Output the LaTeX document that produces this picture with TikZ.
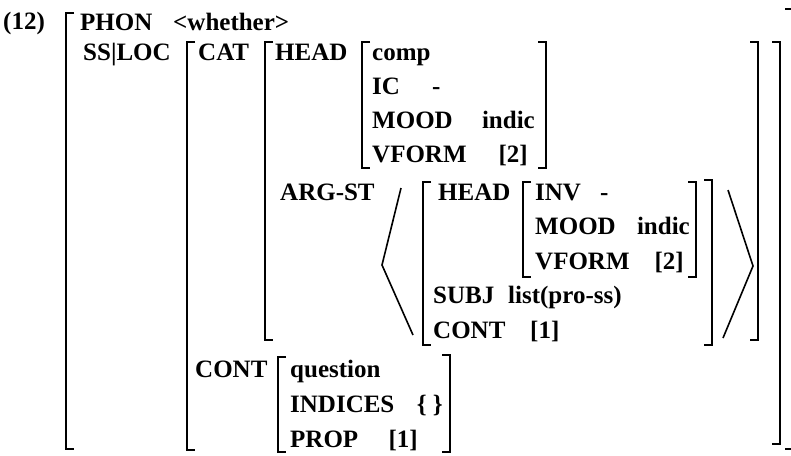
\documentclass[tikz,border=0pt]{standalone}
\usepackage{fontspec}
\setmainfont{Liberation Serif}
\tikzset{
  avm/.style={anchor=base west, inner sep=0pt, font=\fontsize{25}{29}\selectfont\bfseries},
  avmr/.style={avm, anchor=base east},
  brk/.style={line width=1.6pt, line join=miter}
}
\newcommand\lbrk[3]{\draw[brk] ({#1+8},#2) -- (#1,#2) -- (#1,#3) -- ({#1+8},#3);}
\newcommand\rbrk[3]{\draw[brk] ({#1-8},#2) -- (#1,#2) -- (#1,#3) -- ({#1-8},#3);}
\begin{document}
\begin{tikzpicture}[x=1pt,y=-1pt]
\useasboundingbox (0,0) rectangle (791,455);
% text
\node[avm] (num) at (3,29) {(12)};
\node[avm] (phon) at (80,30) {PHON};
\node[avm] (phonv) at (173,30) {<whether>};
\node[avm] (ssloc) at (83,60) {SS|LOC};
\node[avm] (cat) at (198,60) {CAT};
\node[avm] (head) at (275,60) {HEAD};
\node[avm] (comp) at (372,60) {comp};
\node[avm] (ic) at (372,94) {IC};
\node[avm] (icv) at (432,94) {-};
\node[avm] (mood) at (372,128) {MOOD};
\node[avmr] (moodv) at (535,128) {indic};
\node[avm] (vform) at (372,162) {VFORM};
\node[avmr] (vformv) at (528,162) {[2]};
\node[avm] (argst) at (280,200) {ARG-ST};
\node[avm] (head2) at (438,200) {HEAD};
\node[avm] (inv) at (535,200) {INV};
\node[avm] (invv) at (600,200) {-};
\node[avm] (mood2) at (535,234) {MOOD};
\node[avmr] (mood2v) at (690,234) {indic};
\node[avm] (vform2) at (535,269) {VFORM};
\node[avmr] (vform2v) at (684,269) {[2]};
\node[avm] (subj) at (433,303) {SUBJ};
\node[avm] (subjv) at (508,303) {list(pro-ss)};
\node[avm] (cont2) at (433,338) {CONT};
\node[avm] (cont2v) at (530,338) {[1]};
\node[avm] (cont) at (195,377) {CONT};
\node[avm] (quest) at (290,377) {question};
\node[avm] (ind) at (290,412) {INDICES};
\node[avmr] (indv) at (443,412) {\{ \}};
\node[avm] (prop) at (290,447) {PROP};
\node[avmr] (propv) at (418,447) {[1]};
% brackets
\lbrk{66}{13}{449}
\rbrk{793}{9}{449}
\lbrk{187}{42}{450}
\rbrk{780}{42}{444}
\lbrk{265}{42}{340}
\rbrk{758}{42}{340}
\lbrk{362}{42}{168}
\rbrk{546}{42}{168}
\lbrk{423}{182}{345}
\rbrk{712}{180}{345}
\lbrk{523}{182}{277}
\rbrk{696}{182}{277}
\lbrk{278}{357}{452}
\rbrk{450}{355}{452}
% angle brackets of the list
\draw[brk] (401,188) -- (382,265) -- (413,335);
\draw[brk] (728,190) -- (753,266) -- (723,338);
\end{tikzpicture}
\end{document}
